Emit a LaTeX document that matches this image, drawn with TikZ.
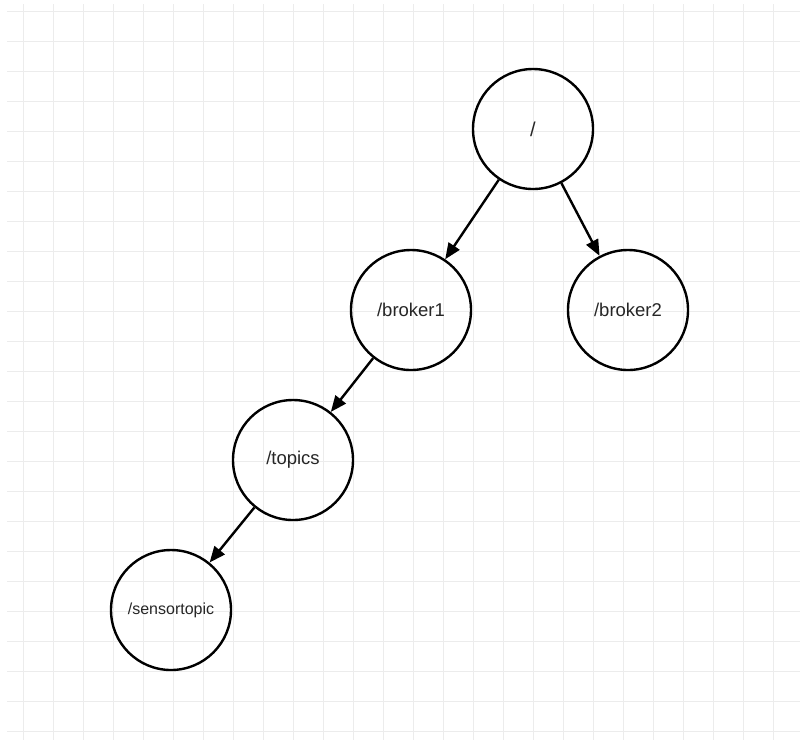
\documentclass[tikz,border=0pt]{standalone}
\usepackage{fontspec}
\setmainfont{Liberation Sans}
\usetikzlibrary{arrows.meta}

\begin{document}
\begin{tikzpicture}[x=1pt, y=-1pt, >={Triangle[length=16pt,width=13pt]},
    nodo/.style={circle, draw, line width=2.4pt, minimum size=120pt, inner sep=0pt,
                 text=black!85, font=\fontsize{18.5}{20}\selectfont},
    ramo/.style={->, line width=2.4pt}]
    % --- Settings ---
    \def\larghezza{800} % picture width
    \def\altezza{740}   % picture height

    % --- Background grid ---
    \useasboundingbox (0,0) rectangle (\larghezza,\altezza);
    \foreach \x in {23,53,...,800}
        \draw[gray!15, line width=1pt] (\x,4) -- (\x,\altezza);
    \foreach \y in {11,41,...,740}
        \draw[gray!15, line width=1pt] (7,\y) -- (\larghezza,\y);

    % --- Tree nodes ---
    \node[nodo, font=\fontsize{20}{22}\selectfont] (radice) at (533,129) {/};
    \node[nodo] (broker1) at (411,310) {/broker1};
    \node[nodo] (broker2) at (628,310) {/broker2};
    \node[nodo] (topics) at (293,460) {/topics};
    \node[nodo, font=\fontsize{16}{18}\selectfont] (sensor) at (171,610) {/sensortopic};

    % --- Branches ---
    \draw[ramo] (radice) -- (broker1);
    \draw[ramo] (radice) -- (broker2);
    \draw[ramo] (broker1) -- (topics);
    \draw[ramo] (topics) -- (sensor);
\end{tikzpicture}
\end{document}
